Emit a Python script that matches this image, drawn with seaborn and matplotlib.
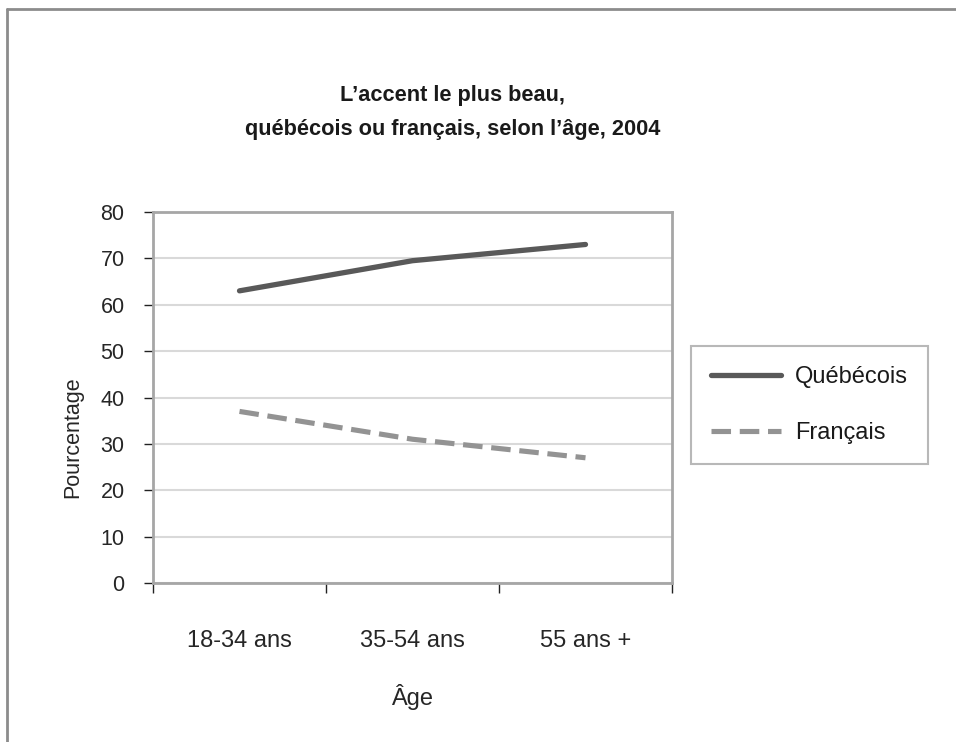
import pandas as pd
import matplotlib.pyplot as plt
from matplotlib.lines import Line2D
import seaborn as sns

# Data
ages = ['18-34 ans', '35-54 ans', '55 ans +']
quebecois = [63, 69.5, 73]
francais = [37, 31, 27]
series_names = ['Québécois', 'Français']
y_ticks = [0, 10, 20, 30, 40, 50, 60, 70, 80]

df = pd.DataFrame({
    'Âge': ages * 2,
    'Pourcentage': quebecois + francais,
    'Accent': [series_names[0]] * 3 + [series_names[1]] * 3,
})

sns.set_style('white')
plt.rcParams['font.family'] = ['Liberation Sans', 'DejaVu Sans']
plt.rcParams['text.color'] = '#1a1a1a'

fig = plt.figure(figsize=(9.56, 7.42), dpi=100)
ax = fig.add_axes([153 / 956, 1 - 583 / 742, 519 / 956, 371 / 742])

sns.lineplot(data=df[df['Accent'] == series_names[0]], x='Âge', y='Pourcentage',
             color='#595959', linewidth=3.8, label=series_names[0], ax=ax)
sns.lineplot(data=df[df['Accent'] == series_names[1]], x='Âge', y='Pourcentage',
             color='#939393', linewidth=3.7, linestyle=(0, (3.8, 1.7)),
             label=series_names[1], ax=ax)

ax.set_ylim(0, 80)
ax.set_yticks(y_ticks)
ax.set_xlim(-0.5, 2.5)
ax.set_xticks([-0.5, 0.5, 1.5, 2.5])
ax.set_xticklabels([])
ax.set_xticks(range(len(ages)), minor=True)
ax.set_xticklabels(ages, minor=True)
ax.tick_params(bottom=True, left=True)
ax.tick_params(axis='x', which='minor', length=0, pad=34, labelsize=17)
ax.tick_params(axis='x', which='major', length=7, width=1, color='#222222', direction='out')
ax.tick_params(axis='y', length=6.5, width=1, color='#222222', direction='out', pad=14,
               labelsize=15.5)
ax.yaxis.grid(True, color='#d9d9d9', linewidth=1.5)
ax.set_axisbelow(True)
for s in ax.spines.values():
    s.set_visible(True)
    s.set_color('#a6a6a6')
    s.set_linewidth(2)

ax.set_xlabel('Âge', fontsize=17, labelpad=23)
ax.set_ylabel('Pourcentage', fontsize=15.5)
ax.yaxis.set_label_coords(-0.135, 0.394)

fig.text(453 / 956, 1 - 95 / 742, 'L’accent le plus beau,', ha='center', va='center',
         fontsize=15.7, fontweight='bold')
fig.text(453 / 956, 1 - 130 / 742, 'québécois ou français, selon l’âge, 2004', ha='center',
         va='center', fontsize=15.7, fontweight='bold')

leg = ax.legend(loc='center left', bbox_to_anchor=(691 / 956, 1 - 405 / 742),
                bbox_transform=fig.transFigure, fontsize=17, frameon=True, fancybox=False,
                handlelength=2.95, handletextpad=0.6, labelspacing=1.45, borderpad=0.85,
                borderaxespad=0)
leg.get_frame().set_edgecolor('#a6a6a6')
leg.get_frame().set_linewidth(1.5)

# outer chart frame (only top and left edges are visible in the crop)
fig.add_artist(Line2D([7 / 956, 7 / 956], [0, 1 - 9 / 742], transform=fig.transFigure,
                      color='#8c8c8c', linewidth=2))
fig.add_artist(Line2D([7 / 956, 1], [1 - 9 / 742, 1 - 9 / 742], transform=fig.transFigure,
                      color='#8c8c8c', linewidth=2))

fig.savefig('out.png', dpi=100)
